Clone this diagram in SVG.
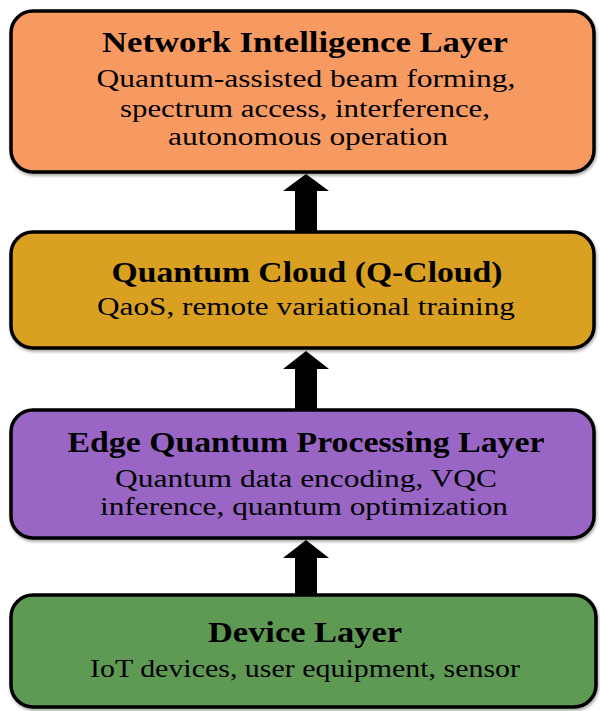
<svg xmlns="http://www.w3.org/2000/svg" width="600" height="711" viewBox="0 0 600 711">
<defs>
<style>
.box{stroke:#000;stroke-width:3.5}
.t{font-family:"Liberation Serif","Times New Roman",serif;font-weight:bold;font-size:30px;fill:#000;text-anchor:middle}
.d{font-family:"Liberation Serif","Times New Roman",serif;font-size:26px;fill:#000;text-anchor:middle}
.arr{fill:#000}
</style>
<filter id="sh" x="-5%" y="-5%" width="110%" height="115%"><feDropShadow dx="1" dy="2" stdDeviation="1.5" flood-color="#000" flood-opacity="0.35"/></filter>
</defs>
<rect width="600" height="711" fill="#fff"/>
<g id="network-intelligence">
<rect class="box" x="11" y="11" width="583" height="161" rx="22" fill="#F79A62" filter="url(#sh)"/>
<text class="t" x="305" y="52" textLength="406" lengthAdjust="spacingAndGlyphs">Network Intelligence Layer</text>
<text class="d" x="306" y="87" textLength="419" lengthAdjust="spacingAndGlyphs">Quantum-assisted beam forming,</text>
<text class="d" x="305" y="117" textLength="370" lengthAdjust="spacingAndGlyphs">spectrum access, interference,</text>
<text class="d" x="308" y="145" textLength="280" lengthAdjust="spacingAndGlyphs">autonomous operation</text>
</g>
<g id="quantum-cloud">
<rect class="box" x="11" y="232" width="583" height="116" rx="22" fill="#D9A022" filter="url(#sh)"/>
<text class="t" x="307" y="282" textLength="391" lengthAdjust="spacingAndGlyphs">Quantum Cloud (Q-Cloud)</text>
<text class="d" x="306" y="315" textLength="418" lengthAdjust="spacingAndGlyphs">QaoS, remote variational training</text>
</g>
<g id="edge-quantum">
<rect class="box" x="11" y="410" width="583" height="128" rx="22" fill="#9966C6" filter="url(#sh)"/>
<text class="t" x="306" y="452" textLength="477" lengthAdjust="spacingAndGlyphs">Edge Quantum Processing Layer</text>
<text class="d" x="306" y="487" textLength="382" lengthAdjust="spacingAndGlyphs">Quantum data encoding, VQC</text>
<text class="d" x="304" y="515" textLength="408" lengthAdjust="spacingAndGlyphs">inference, quantum optimization</text>
</g>
<g id="device-layer">
<rect class="box" x="11" y="595" width="585" height="112" rx="22" fill="#5E9A55" filter="url(#sh)"/>
<text class="t" x="305" y="642" textLength="194" lengthAdjust="spacingAndGlyphs">Device Layer</text>
<text class="d" x="305" y="677" textLength="430" lengthAdjust="spacingAndGlyphs">IoT devices, user equipment, sensor</text>
</g>
<g id="connectors">
<polygon class="arr" points="306,174 329,191 317,191 317,231 295,231 295,191 283,191"/>
<polygon class="arr" points="306,351 329,369 317,369 317,409 295,409 295,369 283,369"/>
<polygon class="arr" points="306,540 329,558 317,558 317,594 295,594 295,558 283,558"/>
</g>
</svg>
